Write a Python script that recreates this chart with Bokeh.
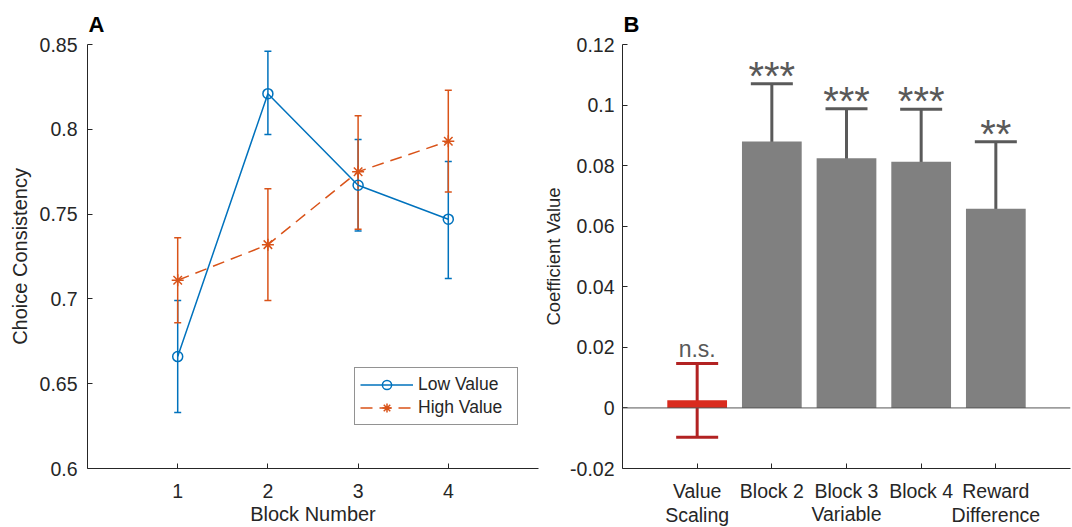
from bokeh.plotting import figure
from bokeh.layouts import row
from bokeh.models import (ColumnDataSource, Whisker, TeeHead, FixedTicker, Span,
                          Legend, LegendItem, Title)
from bokeh.core.properties import value
from bokeh.embed import file_html
from bokeh.resources import INLINE

# ---------------- data ----------------
blocks = [1, 2, 3, 4]
block_labels = ["1", "2", "3", "4"]
low_mean = [0.666, 0.821, 0.767, 0.747]
low_upper = [0.699, 0.846, 0.794, 0.781]
low_lower = [0.633, 0.797, 0.740, 0.712]
high_mean = [0.711, 0.732, 0.775, 0.793]
high_upper = [0.736, 0.765, 0.808, 0.823]
high_lower = [0.686, 0.699, 0.741, 0.763]
yticks_a = [0.6, 0.65, 0.7, 0.75, 0.8, 0.85]
ytick_labels_a = ["0.6", "0.65", "0.7", "0.75", "0.8", "0.85"]

predictors = ["Value\nScaling", "Block 2", "Block 3", "Block 4", "Reward\nDifference"]
pred_x = [1, 2, 3, 4, 5]
coef = [0.0025, 0.0880, 0.0824, 0.0813, 0.0658]
coef_upper = [0.0147, 0.1070, 0.0988, 0.0986, 0.0879]
coef_lower = [-0.0097, 0.0693, 0.0660, 0.0640, 0.0439]
sig = ["n.s.", "***", "***", "***", "**"]
yticks_b = [-0.02, 0, 0.02, 0.04, 0.06, 0.08, 0.1, 0.12]
ytick_labels_b = ["-0.02", "0", "0.02", "0.04", "0.06", "0.08", "0.1", "0.12"]

FONT = "Liberation Sans"
TXT = "#262626"
BLUE = "#0072BD"
ORANGE = "#D95319"


def style(p, tick_size):
    p.outline_line_color = None
    p.xgrid.grid_line_color = None
    p.ygrid.grid_line_color = None
    for ax in (p.xaxis[0], p.yaxis[0]):
        ax.axis_line_color = TXT
        ax.axis_line_width = 1
        ax.major_tick_line_color = TXT
        ax.major_tick_in = 5
        ax.major_tick_out = 0
        ax.minor_tick_line_color = None
        ax.major_label_text_font = FONT
        ax.major_label_text_font_size = tick_size
        ax.major_label_text_color = TXT
        ax.axis_label_text_font = FONT
        ax.axis_label_text_font_style = "normal"
        ax.axis_label_text_color = TXT
    p.background_fill_color = "white"
    p.border_fill_color = "white"


# ---------------- panel A ----------------
pa = figure(width=540, height=527, x_range=(0, 5), y_range=(0.6, 0.85),
            output_backend="svg", toolbar_location=None,
            min_border_left=87, min_border_right=2, min_border_top=44, min_border_bottom=57)
style(pa, "19.5px")
pa.xaxis.ticker = FixedTicker(ticks=blocks)
# two-line tick boxes (second line empty) so the axis title can sit like panel B's
pa.xaxis.major_label_overrides = {b: l + "\n" for b, l in zip(blocks, block_labels)}
pa.xaxis.major_label_text_line_height = 1.1
pa.yaxis.ticker = FixedTicker(ticks=yticks_a)
pa.yaxis.major_label_overrides = {t: l for t, l in zip(yticks_a, ytick_labels_a)}
pa.xaxis.axis_label = "Block Number"
pa.yaxis.axis_label = "Choice Consistency"
pa.xaxis.axis_label_text_font_size = "20px"
pa.yaxis.axis_label_text_font_size = "20px"
pa.xaxis.major_label_standoff = 11
pa.xaxis.axis_label_standoff = -26
pa.yaxis.major_label_standoff = 10
pa.yaxis.axis_label_standoff = 6

src_low = ColumnDataSource(dict(x=blocks, y=low_mean, up=low_upper, lo=low_lower))
src_high = ColumnDataSource(dict(x=blocks, y=high_mean, up=high_upper, lo=high_lower))

l1 = pa.line("x", "y", source=src_low, line_color=BLUE, line_width=1.5)
m1 = pa.scatter("x", "y", source=src_low, marker="circle", size=10, fill_color=None,
                line_color=BLUE, line_width=1.5)
l2 = pa.line("x", "y", source=src_high, line_color=ORANGE, line_width=1.5, line_dash="12 7")
m2 = pa.scatter("x", "y", source=src_high, marker="asterisk", size=12,
                line_color=ORANGE, line_width=1.5)

for src, col in ((src_low, BLUE), (src_high, ORANGE)):
    w = Whisker(source=src, base="x", upper="up", lower="lo", line_color=col, line_width=1.5,
                upper_head=TeeHead(size=7, line_color=col, line_width=1.5),
                lower_head=TeeHead(size=7, line_color=col, line_width=1.5))
    pa.add_layout(w)

leg = Legend(items=[LegendItem(label="Low Value", renderers=[l1, m1]),
                    LegendItem(label="High Value", renderers=[l2, m2])],
             location=(267, 43), label_text_font=FONT, label_text_font_size="17.5px",
             label_text_color=TXT, glyph_width=53, glyph_height=23, label_height=23,
             label_width=94, label_standoff=5, spacing=0, padding=5, margin=0,
             border_line_color=TXT, border_line_width=1, background_fill_alpha=1)
pa.add_layout(leg)

ta = Title(text="A", text_font=FONT, text_font_size="22px", text_font_style="bold",
           text_color="black", align="left", offset=1, standoff=15)
pa.add_layout(ta, "above")

# ---------------- panel B ----------------
pb = figure(width=532, height=527, x_range=(0, 6), y_range=(-0.02, 0.12),
            output_backend="svg", toolbar_location=None,
            min_border_left=80, min_border_right=2, min_border_top=44, min_border_bottom=57)
style(pb, "19.5px")
pb.xaxis.ticker = FixedTicker(ticks=pred_x)
pb.xaxis.major_label_overrides = {x: l for x, l in zip(pred_x, predictors)}
pb.xaxis.major_label_text_line_height = 1.1
pb.yaxis.ticker = FixedTicker(ticks=yticks_b)
pb.yaxis.major_label_overrides = {t: l for t, l in zip(yticks_b, ytick_labels_b)}
pb.xaxis.axis_label = "Variable"
pb.yaxis.axis_label = "Coefficient Value"
pb.xaxis.axis_label_text_font_size = "19.5px"
pb.yaxis.axis_label_text_font_size = "18.5px"
pb.xaxis.major_label_standoff = 11
pb.xaxis.axis_label_standoff = -26
pb.yaxis.major_label_standoff = 8
pb.yaxis.axis_label_standoff = 3

bar_colors = ["#D92B1E"] + ["#808080"] * (len(coef) - 1)
src_bar = ColumnDataSource(dict(x=pred_x, top=coef, color=bar_colors))
pb.vbar(x="x", top="top", width=0.8, bottom=0, source=src_bar, fill_color="color",
        line_color=None)
pb.add_layout(Span(location=0, dimension="width", line_color="#555555", line_width=1))

src_err_ns = ColumnDataSource(dict(x=pred_x[:1], up=coef_upper[:1], lo=coef_lower[:1]))
src_err_sig = ColumnDataSource(dict(x=pred_x[1:], up=coef_upper[1:], lo=coef_lower[1:]))
for src, col in ((src_err_ns, "#B22222"), (src_err_sig, "#5A5A5A")):
    w = Whisker(source=src, base="x", upper="up", lower="lo", line_color=col, line_width=3,
                upper_head=TeeHead(size=42, line_color=col, line_width=3),
                lower_head=TeeHead(size=42, line_color=col, line_width=3))
    pb.add_layout(w)

src_ns = ColumnDataSource(dict(x=pred_x[:1], y=coef_upper[:1], t=sig[:1]))
src_star = ColumnDataSource(dict(x=pred_x[1:], y=coef_upper[1:], t=sig[1:]))
pb.text(x="x", y="y", text="t", source=src_ns, text_font=value(FONT), text_font_size="23px",
        text_color="#595959", text_align="center", text_baseline="alphabetic", y_offset=-14)
pb.text(x="x", y="y", text="t", source=src_star, text_font=value(FONT), text_font_size="40px",
        text_color="#595959", text_align="center", text_baseline="alphabetic", y_offset=-8)

tb = Title(text="B", text_font=FONT, text_font_size="22px", text_font_style="bold",
           text_color="black", align="left", offset=1, standoff=15)
pb.add_layout(tb, "above")

layout = row(pa, pb)
open("out.html", "w").write(file_html(layout, INLINE))
